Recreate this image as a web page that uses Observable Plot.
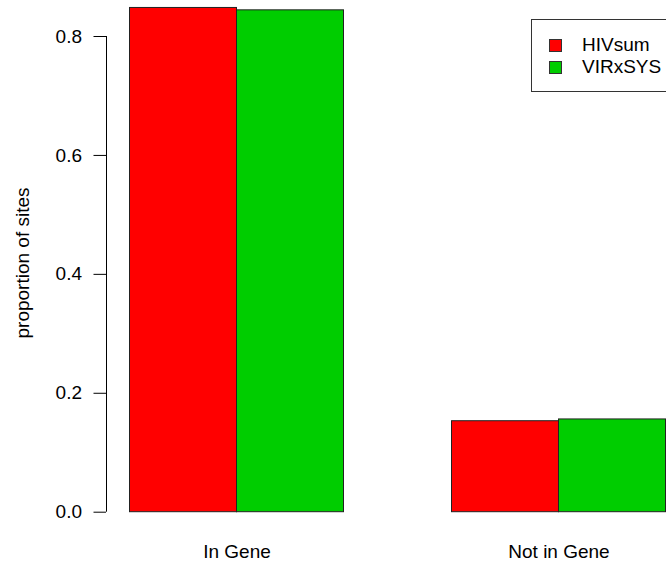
<!DOCTYPE html>
<html>
<head>
<meta charset="utf-8">
<script src="https://cdn.jsdelivr.net/npm/d3@7"></script>
<script src="https://cdn.jsdelivr.net/npm/@observablehq/plot@0.6"></script>
<style>
  html, body { margin: 0; padding: 0; background: #fff; overflow: hidden; }
  #wrap { position: relative; width: 666px; height: 562px; font-family: "Liberation Sans", Arial, sans-serif; }
  #legend { position: absolute; left: 531px; top: 19px; width: 170px; height: 73px; box-sizing: border-box;
            border: 1px solid #333; background: #fff; padding: 14px 0 0 17px; }
  .row { display: flex; align-items: center; height: 22px; font-size: 19px; line-height: 22px; color: #000; white-space: nowrap; }
  .sw { width: 13px; height: 13px; box-sizing: border-box; border: 1px solid #333; margin-right: 20px; flex: none; }
</style>
</head>
<body>
<div id="wrap"></div>
<script>
const categories = ["In Gene", "Not in Gene"];
const series = ["HIVsum", "VIRxSYS"];
const hivsum = [0.848, 0.153];
const virxsys = [0.844, 0.156];
const colors = ["#FF0000", "#00CD00"];
const yTicks = [0, 0.2, 0.4, 0.6, 0.8];
const yLabel = "proportion of sites";

const data = categories.flatMap((c, i) => [
  {category: c, series: series[0], value: hivsum[i]},
  {category: c, series: series[1], value: virxsys[i]}
]);

const font = "'Liberation Sans', Arial, sans-serif";

const chart = Plot.plot({
  width: 666,
  height: 562,
  marginLeft: 128.5,
  marginRight: 0,
  marginTop: 0,
  marginBottom: 30,
  style: {fontFamily: font, fontSize: "19px", color: "#000", background: "#fff", overflow: "visible"},
  fx: {domain: categories, paddingInner: 1 / 3, paddingOuter: 0, axis: null, label: null},
  x: {domain: series, padding: 0, axis: null},
  y: {domain: [0, 0.8], range: [511.7, 36], axis: null},
  color: {domain: series, range: colors},
  marks: [
    Plot.barY(data, {fx: "category", x: "series", y: "value", fill: "series", stroke: "#222", strokeWidth: 1}),
    Plot.axisY({ticks: yTicks, tickFormat: d3.format(".1f"), tickSize: 12.5, tickPadding: 12, dx: -23, fontSize: 19, label: null}),
    Plot.ruleX([yTicks], {x: null, y1: d => d[0], y2: d => d[d.length - 1], dx: -130.5, stroke: "#000", facetAnchor: "left"}),
    Plot.axisFx({anchor: "bottom", tickSize: 0, tickPadding: 12, fontSize: 19, label: null}),
    Plot.text([yLabel], {frameAnchor: "left", textAnchor: "middle", rotate: -90, dx: -106.5, dy: -3.5, fontSize: 19, fill: "#000", facetAnchor: "left"})
  ]
});

const wrap = document.getElementById("wrap");
wrap.appendChild(chart);

const legend = document.createElement("div");
legend.id = "legend";
series.forEach((s, i) => {
  const row = document.createElement("div");
  row.className = "row";
  const sw = document.createElement("span");
  sw.className = "sw";
  sw.style.background = chart.scale("color").apply(s);
  const t = document.createElement("span");
  t.textContent = s;
  row.appendChild(sw);
  row.appendChild(t);
  legend.appendChild(row);
});
wrap.appendChild(legend);
</script>
</body>
</html>
